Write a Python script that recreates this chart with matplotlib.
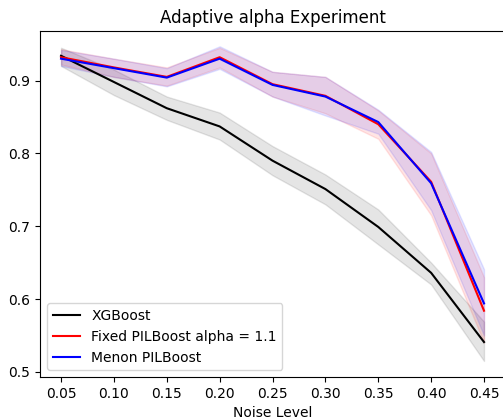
import numpy as np
import matplotlib
matplotlib.use("Agg")
import matplotlib.pyplot as plt

noise = [0.05, 0.10, 0.15, 0.20, 0.25, 0.30, 0.35, 0.40, 0.45]

xgb_mean = [0.934, 0.898, 0.862, 0.837, 0.790, 0.751, 0.699, 0.636, 0.541]
xgb_low = [0.920, 0.880, 0.846, 0.819, 0.770, 0.730, 0.675, 0.620, 0.515]
xgb_high = [0.945, 0.915, 0.878, 0.856, 0.810, 0.771, 0.723, 0.650, 0.569]

fixed_mean = [0.932, 0.918, 0.905, 0.932, 0.895, 0.879, 0.840, 0.761, 0.584]
fixed_low = [0.922, 0.905, 0.893, 0.918, 0.878, 0.855, 0.820, 0.715, 0.540]
fixed_high = [0.943, 0.930, 0.918, 0.945, 0.912, 0.905, 0.859, 0.800, 0.630]

menon_mean = [0.930, 0.917, 0.904, 0.930, 0.894, 0.878, 0.843, 0.759, 0.594]
menon_low = [0.920, 0.905, 0.892, 0.916, 0.878, 0.852, 0.827, 0.722, 0.550]
menon_high = [0.942, 0.930, 0.917, 0.947, 0.912, 0.905, 0.860, 0.802, 0.641]

fig = plt.figure(figsize=(5.03, 4.19), dpi=100)
# right spine sits just outside the saved image, as in the original
ax = fig.add_axes([40 / 503, 1 - 377 / 419, 466 / 503, 346 / 419])

ax.plot(noise, xgb_mean, color='black', label='XGBoost')
ax.fill_between(noise, xgb_low, xgb_high, color='black', alpha=0.1)
ax.plot(noise, fixed_mean, color='red', label='Fixed PILBoost alpha = 1.1')
ax.fill_between(noise, fixed_low, fixed_high, color='red', alpha=0.1)
ax.plot(noise, menon_mean, color='blue', label='Menon PILBoost')
ax.fill_between(noise, menon_low, menon_high, color='blue', alpha=0.1)

ax.set_xticks(noise)
ax.set_xlim(0.0301, 0.4708)
ax.set_ylim(0.493, 0.968)
ax.set_xlabel('Noise Level')
ax.set_title('Adaptive alpha Experiment')
ax.legend(loc='lower left')

fig.savefig('out.png', dpi=100)
